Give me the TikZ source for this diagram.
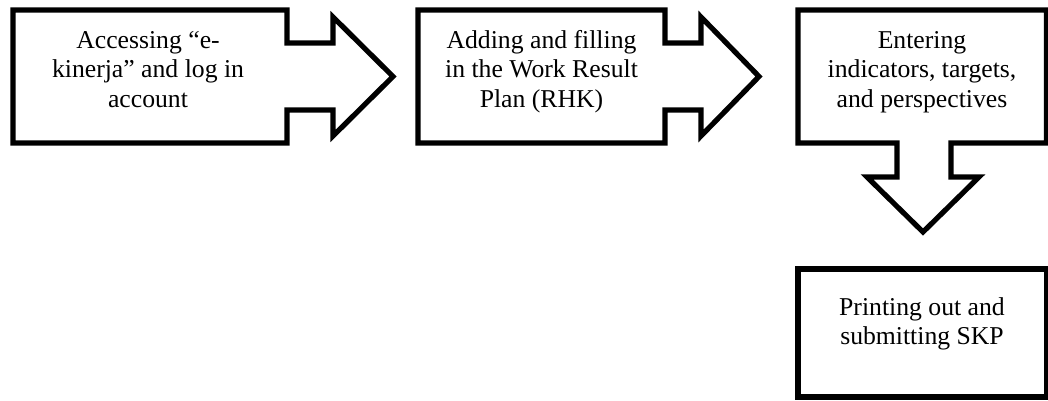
\documentclass[tikz,border=0pt]{standalone}
\usepackage{fontspec}
\setmainfont{Liberation Serif}
\begin{document}
\begin{tikzpicture}[x=1pt,y=-1pt,
  shapeline/.style={draw=black,line width=5.2pt,line join=miter,fill=white},
  label/.style={anchor=base,inner sep=0pt,font=\fontsize{25.7}{29.5}\selectfont}]
\useasboundingbox (0,0) rectangle (1048,401);
% callout 1
\draw[shapeline] (13,10) -- (287,10) -- (287,43) -- (333,43) -- (333,17) -- (393,76.5)
  -- (333,136) -- (333,110) -- (287,110) -- (287,143) -- (13,143) -- cycle;
% callout 2
\draw[shapeline] (418,10) -- (665,10) -- (665,43) -- (701,43) -- (701,17) -- (759,76.5)
  -- (701,136) -- (701,110) -- (665,110) -- (665,143) -- (418,143) -- cycle;
% callout 3 (down)
\draw[shapeline] (798,10) -- (1046.5,10) -- (1046.5,143) -- (951,143) -- (951,177) -- (979,177)
  -- (923,232) -- (867,177) -- (897,177) -- (897,143) -- (798,143) -- cycle;
% box 4
\draw[shapeline] (798,269) rectangle (1046.5,397);
\node[label] (t1) at (148,48.5) {\begin{tabular}[t]{@{}c@{}}Accessing “e-\\kinerja” and log in\\account\end{tabular}};
\node[label] (t2) at (541.5,48.5) {\begin{tabular}[t]{@{}c@{}}Adding and filling\\in the Work Result\\Plan (RHK)\end{tabular}};
\node[label] (t3) at (922,48.5) {\begin{tabular}[t]{@{}c@{}}Entering\\indicators, targets,\\and perspectives\end{tabular}};
\node[label] (t4) at (922,315) {\begin{tabular}[t]{@{}c@{}}Printing out and\\submitting SKP\end{tabular}};
\end{tikzpicture}
\end{document}
